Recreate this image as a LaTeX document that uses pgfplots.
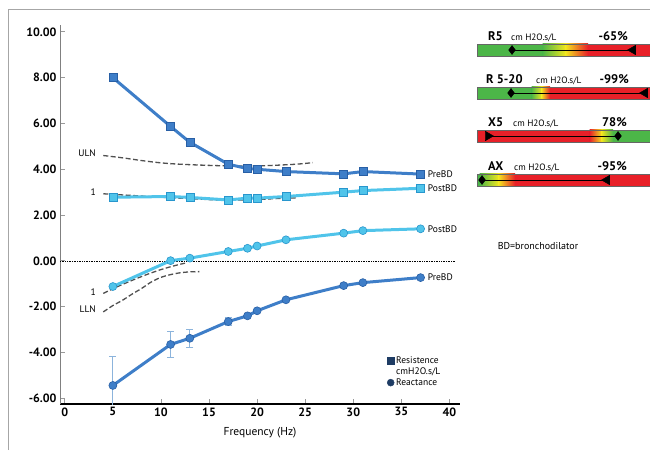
\documentclass[border=0pt]{standalone}
\usepackage{fontspec}
\setmainfont{PT Sans}
\usepackage{pgfplots}
\pgfplotsset{compat=1.18}
\definecolor{preC}{RGB}{62,126,200}
\definecolor{preD}{RGB}{40,95,165}
\definecolor{postC}{RGB}{80,196,234}
\definecolor{postD}{RGB}{40,150,205}
\definecolor{navy}{RGB}{30,60,100}
\definecolor{dashC}{RGB}{80,80,80}
\definecolor{errC}{RGB}{140,180,220}
\definecolor{gB}{RGB}{76,182,72}
\definecolor{yB}{RGB}{242,230,30}
\definecolor{rB}{RGB}{232,32,40}
\pgfplotsset{
  barax/.style={anchor=south west, width=173pt, height=12pt, scale only axis, hide axis,
    xmin=477, xmax=650, ymin=0, ymax=1, clip=false},
  refline/.style={dashC, dash pattern=on 5pt off 2.5pt, line width=1.3pt, smooth},
}
\begin{document}
\begin{tikzpicture}[x=1pt,y=1pt]
\path[use as bounding box] (0,0) rectangle (650,450);
\draw[gray!70, line width=1pt] (8,0) -- (8,440) -- (650,440);
\begin{axis}[at={(60pt,46pt)}, anchor=south west, width=400pt, height=379pt, scale only axis,
  xmin=-0.5, xmax=41.1, ymin=-6.25, ymax=10.3,
  axis x line=bottom, axis y line=left,
  x axis line style={-, black, line width=1.8pt},
  y axis line style={-, gray, line width=0.8pt},
  tick align=inside, major tick length=5pt, tick style={gray!80, line width=0.8pt},
  xtick={0,5,...,40}, ytick={-6,-4,...,10},
  /pgf/number format/assume math mode=true,
  xticklabels={\textbf{0},\textbf{5},\textbf{10},\textbf{15},\textbf{20},\textbf{25},\textbf{30},\textbf{35},\textbf{40}},
  xticklabel style={font=\bfseries\fontsize{12}{14}\selectfont},
  yticklabel style={font=\bfseries\fontsize{12}{14}\selectfont, /pgf/number format/.cd, fixed, fixed zerofill, precision=2, /tikz/.cd},
  xlabel={Frequency (Hz)}, xlabel style={font=\fontsize{11.5}{13}\selectfont, yshift=-4pt},
  legend style={at={(0.81,0.135)}, anchor=north west, draw=none, fill=none,
    font=\fontsize{9.5}{10}\selectfont, row sep=-1.5pt},
  legend cell align=left,
]
\addlegendimage{only marks, mark=square*, mark size=3.5pt, navy}
\addlegendentry{Resistence}
\addlegendimage{only marks, mark=square*, mark size=3.5pt, mark options={draw opacity=0, fill opacity=0}}
\addlegendentry{cmH2O.s/L}
\addlegendimage{only marks, mark=*, mark size=3.5pt, navy}
\addlegendentry{Reactance}

% zero line
\addplot[densely dotted, black, line width=0.7pt] coordinates {(-0.5,0) (40.6,0)};
% reference dashed lines
\addplot[refline] coordinates {(4,4.6) (6,4.5) (8,4.38) (10,4.28) (12,4.22) (15,4.17) (18,4.14) (21,4.16) (24,4.22) (25.8,4.29)};
\addplot[refline] coordinates {(4,2.93) (6,2.88) (8,2.83) (10,2.78) (13,2.72) (16,2.66) (19,2.66) (22,2.72) (24,2.75)};
\addplot[refline] coordinates {(4,-1.42) (5.5,-1.12) (7,-0.85) (8.5,-0.6) (10,-0.38) (11.5,-0.2) (12.5,-0.1)};
\addplot[refline] coordinates {(4,-2.23) (5,-1.95) (6,-1.72) (7,-1.45) (8,-1.2) (9,-0.92) (10,-0.72) (11,-0.6) (12,-0.52) (13,-0.48) (14,-0.47)};

% error bars
\addplot[draw=none, no marks, error bars/.cd, y dir=both, y explicit,
  error bar style={errC, line width=0.9pt},
  error mark options={rotate=90, mark size=3.5pt, errC, line width=0.9pt}]
  coordinates {(5,-5.44) +- (0,1.27) (11,-3.65) +- (0,0.57) (13,-3.38) +- (0,0.38) (17,-2.65) +- (0,0.19)};

% resistance PreBD
\addplot[preC, line width=3pt, mark=square*, mark size=4pt, mark options={fill=preC, draw=preD, line width=0.6pt}]
  coordinates {(5,8.0) (11,5.87) (13,5.18) (17,4.22) (19,4.03) (20,4.0) (23,3.9) (29,3.8) (31,3.9) (37,3.79)};
% resistance PostBD
\addplot[postC, line width=3pt, mark=square*, mark size=4pt, mark options={fill=postC, draw=postD, line width=0.6pt}]
  coordinates {(5,2.78) (11,2.81) (13,2.77) (17,2.66) (19,2.74) (20,2.74) (23,2.81) (29,3.0) (31,3.07) (37,3.17)};
% reactance PostBD
\addplot[postC, line width=3pt, mark=*, mark size=4pt, mark options={fill=postC, draw=postD, line width=0.6pt}]
  coordinates {(5,-1.12) (11,0.01) (13,0.12) (17,0.41) (19,0.55) (20,0.65) (23,0.92) (29,1.21) (31,1.32) (37,1.40)};
% reactance PreBD
\addplot[preC, line width=3pt, mark=*, mark size=4pt, mark options={fill=preC, draw=preD, line width=0.6pt}]
  coordinates {(5,-5.44) (11,-3.65) (13,-3.38) (17,-2.65) (19,-2.4) (20,-2.18) (23,-1.7) (29,-1.08) (31,-0.95) (37,-0.73)};

% labels
\node[anchor=west, font=\fontsize{9.5}{10}\selectfont] at (axis cs:37.4,3.79) {PreBD};
\node[anchor=west, font=\fontsize{9.5}{10}\selectfont] at (axis cs:37.4,3.17) {PostBD};
\node[anchor=west, font=\fontsize{9.5}{10}\selectfont] at (axis cs:37.4,1.40) {PostBD};
\node[anchor=west, font=\fontsize{9.5}{10}\selectfont] at (axis cs:37.4,-0.73) {PreBD};
\node[anchor=east, font=\fontsize{9.5}{10}\selectfont] at (axis cs:3.6,4.72) {ULN};
\node[anchor=east, font=\fontsize{9.5}{10}\selectfont] at (axis cs:3.6,3.01) {1};
\node[anchor=east, font=\fontsize{9.5}{10}\selectfont] at (axis cs:3.6,-1.35) {1};
\node[anchor=east, font=\fontsize{9.5}{10}\selectfont] at (axis cs:3.6,-2.12) {LLN};
\end{axis}

% ---- R5 bar
\begin{axis}[barax, at={(477pt,394pt)}]
\fill[gB] (axis cs:477,0) rectangle (axis cs:543,1);
\shade[left color=gB, right color=yB] (axis cs:542.5,0) rectangle (axis cs:566,1);
\shade[left color=yB, right color=rB] (axis cs:565.5,0) rectangle (axis cs:588,1);
\fill[rB] (axis cs:587.5,0) rectangle (axis cs:650,1);
\draw[black!60, line width=0.5pt] (axis cs:477,0) rectangle (axis cs:650,1);
\addplot[black, line width=0.6pt] coordinates {(512,0.5) (633,0.5)};
\addplot[only marks, mark=diamond*, mark size=4.5pt, black] coordinates {(512,0.5)};
\addplot[only marks, mark=triangle*, mark size=5.5pt, mark options={rotate=90}, black] coordinates {(633,0.5)};
\end{axis}
% ---- R5-20 bar
\begin{axis}[barax, at={(477pt,351pt)}]
\fill[gB] (axis cs:477,0) rectangle (axis cs:532,1);
\shade[left color=gB, right color=yB] (axis cs:531.5,0) rectangle (axis cs:542,1);
\shade[left color=yB, right color=rB] (axis cs:541.5,0) rectangle (axis cs:550,1);
\fill[rB] (axis cs:549.5,0) rectangle (axis cs:650,1);
\draw[black!60, line width=0.5pt] (axis cs:477,0) rectangle (axis cs:650,1);
\addplot[black, line width=0.6pt] coordinates {(511,0.5) (645,0.5)};
\addplot[only marks, mark=diamond*, mark size=4.5pt, black] coordinates {(511,0.5)};
\addplot[only marks, mark=triangle*, mark size=5.5pt, mark options={rotate=90}, black] coordinates {(645,0.5)};
\end{axis}
% ---- X5 bar
\begin{axis}[barax, at={(477pt,308pt)}]
\fill[rB] (axis cs:477,0) rectangle (axis cs:590,1);
\shade[left color=rB, right color=yB] (axis cs:589.5,0) rectangle (axis cs:602,1);
\shade[left color=yB, right color=gB] (axis cs:601.5,0) rectangle (axis cs:613,1);
\fill[gB] (axis cs:612.5,0) rectangle (axis cs:650,1);
\draw[black!60, line width=0.5pt] (axis cs:477,0) rectangle (axis cs:650,1);
\addplot[black, line width=0.6pt] coordinates {(488,0.5) (618,0.5)};
\addplot[only marks, mark=triangle*, mark size=5.5pt, mark options={rotate=-90}, black] coordinates {(488,0.5)};
\addplot[only marks, mark=diamond*, mark size=4.5pt, black] coordinates {(618,0.5)};
\end{axis}
% ---- AX bar
\begin{axis}[barax, at={(477pt,264pt)}]
\fill[gB] (axis cs:477,0) rectangle (axis cs:480,1);
\shade[left color=gB, right color=yB] (axis cs:479.5,0) rectangle (axis cs:499,1);
\shade[left color=yB, right color=rB] (axis cs:498.5,0) rectangle (axis cs:515,1);
\fill[rB] (axis cs:514.5,0) rectangle (axis cs:650,1);
\draw[black!60, line width=0.5pt] (axis cs:477,0) rectangle (axis cs:650,1);
\addplot[black, line width=0.6pt] coordinates {(482,0.5) (607,0.5)};
\addplot[only marks, mark=diamond*, mark size=4.5pt, black] coordinates {(482,0.5)};
\addplot[only marks, mark=triangle*, mark size=5.5pt, mark options={rotate=90}, black] coordinates {(607,0.5)};
\end{axis}

% bar titles
\tikzset{bt/.style={font=\bfseries\fontsize{12.5}{14}\selectfont, inner sep=0pt},
         bu/.style={font=\fontsize{9.2}{10}\selectfont, inner sep=0pt}}
\node[bt, anchor=base west] at (488,409) {R5};
\node[bu, anchor=base west] at (511,409) {cm H2O.s/L};
\node[bt, anchor=base east] at (628,409) {-65\%};
\node[bt, anchor=base west] at (486,366) {R 5-20};
\node[bu, anchor=base west] at (536,366) {cm H2O.s/L};
\node[bt, anchor=base east] at (629,366) {-99\%};
\node[bt, anchor=base west] at (488,323) {X5};
\node[bu, anchor=base west] at (513,323) {cm H2O.s/L};
\node[bt, anchor=base east] at (627,323) {78\%};
\node[bt, anchor=base west] at (488,279) {AX};
\node[bu, anchor=base west] at (514,279) {cm H2O.s/L};
\node[bt, anchor=base east] at (627,279) {-95\%};
\node[font=\fontsize{10}{12}\selectfont] at (538,204) {BD=bronchodilator};
\end{tikzpicture}
\end{document}
